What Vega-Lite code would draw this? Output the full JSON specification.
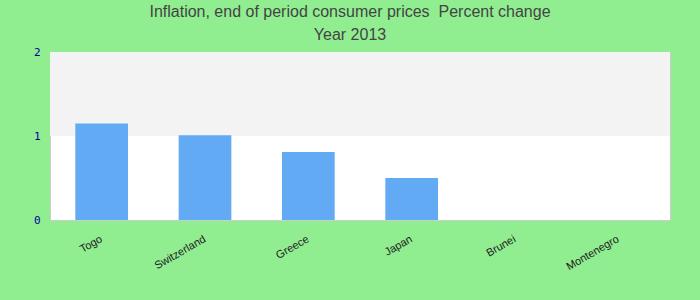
{
  "$schema": "https://vega.github.io/schema/vega-lite/v6.json",
  "autosize": {"type": "none"},
  "padding": {"left": 50, "top": 52, "right": 30, "bottom": 80},
  "width": 620,
  "height": 168,
  "background": "#90ee90",
  "title": {
    "text": ["Inflation, end of period consumer prices \u00a0Percent change", "Year 2013"],
    "font": "Liberation Sans",
    "fontSize": 16,
    "fontWeight": "normal",
    "color": "#444444",
    "lineHeight": 23,
    "offset": 3,
    "dx": -10
  },
  "config": {
    "view": {"fill": "white", "stroke": "#cccccc", "strokeWidth": 1}
  },
  "layer": [
    {
      "data": {"values": [{"low": 1, "high": 2}]},
      "mark": {"type": "rect", "color": "#f3f3f3"},
      "encoding": {
        "y": {"field": "low", "type": "quantitative", "scale": {"domain": [0, 2]}},
        "y2": {"field": "high"}
      }
    },
    {
      "data": {"values": [
        {"country": "Togo", "value": 1.15},
        {"country": "Switzerland", "value": 1.01},
        {"country": "Greece", "value": 0.81},
        {"country": "Japan", "value": 0.5},
        {"country": "Brunei", "value": 0},
        {"country": "Montenegro", "value": 0}
      ]},
      "mark": {"type": "bar", "color": "#63aaf5"},
      "encoding": {
        "x": {
          "field": "country", "type": "nominal", "sort": null,
          "scale": {"paddingInner": 0.49, "paddingOuter": 0.245},
          "axis": {
            "title": null, "labelAngle": -30, "labelAlign": "right", "labelBaseline": "middle",
            "labelFont": "Liberation Sans", "labelFontSize": 11, "labelColor": "#222222",
            "ticks": false, "domain": false, "labelPadding": 18
          }
        },
        "y": {
          "field": "value", "type": "quantitative",
          "scale": {"domain": [0, 2]},
          "axis": {
            "title": null, "values": [0, 1, 2], "labelExpr": "format(datum.value, 'd')",
            "grid": false, "ticks": false, "domain": false, "labelOverlap": false, "labelFlush": false,
            "labelFont": "DejaVu Sans Mono", "labelFontSize": 11, "labelColor": "#00009c",
            "labelPadding": 10
          }
        }
      }
    }
  ]
}
